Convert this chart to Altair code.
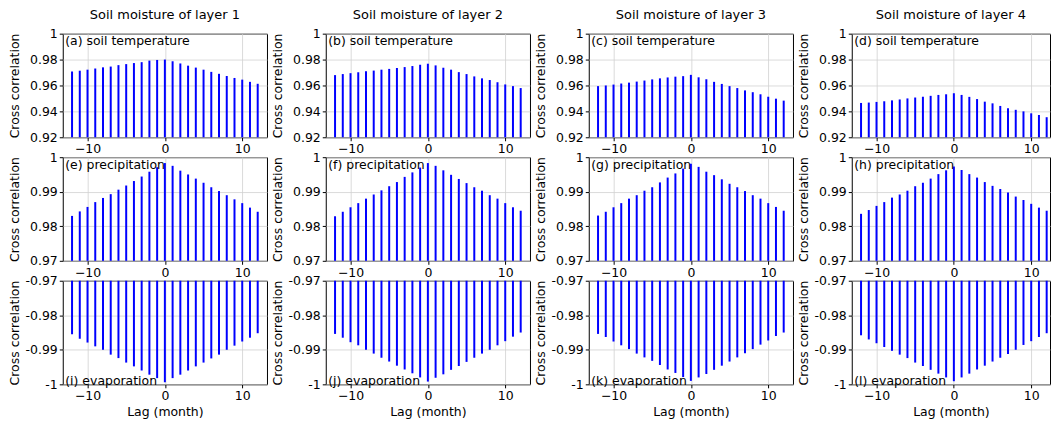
import altair as alt
import pandas as pd

lags = list(range(-12, 13))

column_titles = ["Soil moisture of layer 1", "Soil moisture of layer 2",
                 "Soil moisture of layer 3", "Soil moisture of layer 4"]

temp_labels = ["(a) soil temperature", "(b) soil temperature",
               "(c) soil temperature", "(d) soil temperature"]
prec_labels = ["(e) precipitation", "(f) precipitation",
               "(g) precipitation", "(h) precipitation"]
evap_labels = ["(i) evaporation", "(j) evaporation",
               "(k) evaporation", "(l) evaporation"]

temp_l1 = [0.9708, 0.9714, 0.9722, 0.9731, 0.9740, 0.9746, 0.9757, 0.9765, 0.9773,
           0.9780, 0.9792, 0.9797, 0.9800, 0.9787, 0.9770, 0.9753, 0.9738, 0.9722,
           0.9705, 0.9690, 0.9673, 0.9658, 0.9645, 0.9628, 0.9613]
temp_l2 = [0.9680, 0.9688, 0.9695, 0.9702, 0.9710, 0.9715, 0.9722, 0.9728, 0.9735,
           0.9742, 0.9750, 0.9760, 0.9768, 0.9755, 0.9737, 0.9722, 0.9703, 0.9688,
           0.9670, 0.9655, 0.9642, 0.9625, 0.9608, 0.9595, 0.9580]
temp_l3 = [0.9595, 0.9600, 0.9607, 0.9615, 0.9622, 0.9630, 0.9638, 0.9647, 0.9655,
           0.9662, 0.9668, 0.9672, 0.9682, 0.9663, 0.9648, 0.9628, 0.9612, 0.9595,
           0.9580, 0.9562, 0.9548, 0.9532, 0.9513, 0.9498, 0.9483]
temp_l4 = [0.9465, 0.9468, 0.9473, 0.9478, 0.9485, 0.9492, 0.9500, 0.9507, 0.9513,
           0.9520, 0.9527, 0.9532, 0.9540, 0.9527, 0.9512, 0.9495, 0.9475, 0.9462,
           0.9442, 0.9425, 0.9412, 0.9400, 0.9385, 0.9372, 0.9355]

prec_l1 = [0.9830, 0.9843, 0.9856, 0.9870, 0.9882, 0.9893, 0.9906, 0.9918, 0.9931,
           0.9944, 0.9958, 0.9971, 0.9983, 0.9975, 0.9961, 0.9950, 0.9938, 0.9926,
           0.9913, 0.9902, 0.9890, 0.9878, 0.9867, 0.9854, 0.9842]
prec_l2 = [0.9829, 0.9842, 0.9855, 0.9867, 0.9880, 0.9892, 0.9904, 0.9916, 0.9928,
           0.9943, 0.9956, 0.9970, 0.9983, 0.9975, 0.9962, 0.9949, 0.9937, 0.9925,
           0.9913, 0.9903, 0.9890, 0.9880, 0.9867, 0.9855, 0.9845]
prec_l3 = [0.9831, 0.9842, 0.9855, 0.9867, 0.9880, 0.9890, 0.9903, 0.9913, 0.9927,
           0.9941, 0.9953, 0.9967, 0.9981, 0.9972, 0.9958, 0.9948, 0.9936, 0.9923,
           0.9913, 0.9902, 0.9890, 0.9880, 0.9867, 0.9856, 0.9845]
prec_l4 = [0.9836, 0.9847, 0.9859, 0.9870, 0.9883, 0.9892, 0.9903, 0.9916, 0.9926,
           0.9938, 0.9951, 0.9962, 0.9973, 0.9963, 0.9951, 0.9941, 0.9928, 0.9917,
           0.9908, 0.9898, 0.9886, 0.9876, 0.9865, 0.9854, 0.9845]

evap_l1 = [-0.9855, -0.9868, -0.9879, -0.9890, -0.9900, -0.9914, -0.9924, -0.9937, -0.9948,
           -0.9960, -0.9972, -0.9982, -0.9994, -0.9982, -0.9972, -0.9960, -0.9948, -0.9937,
           -0.9925, -0.9914, -0.9900, -0.9888, -0.9876, -0.9865, -0.9852]
evap_l2 = [-0.9854, -0.9865, -0.9878, -0.9887, -0.9900, -0.9911, -0.9923, -0.9934, -0.9946,
           -0.9957, -0.9968, -0.9980, -0.9992, -0.9981, -0.9971, -0.9958, -0.9947, -0.9935,
           -0.9923, -0.9911, -0.9900, -0.9887, -0.9875, -0.9862, -0.9850]
evap_l3 = [-0.9854, -0.9863, -0.9876, -0.9887, -0.9898, -0.9911, -0.9922, -0.9932, -0.9944,
           -0.9957, -0.9967, -0.9979, -0.9990, -0.9980, -0.9970, -0.9958, -0.9946, -0.9934,
           -0.9922, -0.9910, -0.9898, -0.9885, -0.9873, -0.9860, -0.9850]
evap_l4 = [-0.9858, -0.9870, -0.9881, -0.9892, -0.9903, -0.9914, -0.9924, -0.9937, -0.9947,
           -0.9958, -0.9969, -0.9980, -0.9991, -0.9980, -0.9969, -0.9957, -0.9946, -0.9934,
           -0.9923, -0.9912, -0.9900, -0.9886, -0.9875, -0.9863, -0.9852]

rows = [
    dict(series=[temp_l1, temp_l2, temp_l3, temp_l4], labels=temp_labels,
         domain=[0.92, 1.0], ticks=[0.92, 0.94, 0.96, 0.98, 1.0], base=0.92, text_y=7.5),
    dict(series=[prec_l1, prec_l2, prec_l3, prec_l4], labels=prec_labels,
         domain=[0.97, 1.0], ticks=[0.97, 0.98, 0.99, 1.0], base=0.97, text_y=8),
    dict(series=[evap_l1, evap_l2, evap_l3, evap_l4], labels=evap_labels,
         domain=[-1.0, -0.97], ticks=[-1.0, -0.99, -0.98, -0.97], base=-0.97, text_y=100.5),
]

FONT = "DejaVu Sans"
H = 104
YEXT = 38
XEXT = 19

ylab = ("(datum.value < 0 ? '-' : '') + (abs(datum.value) > 0.9999 ? '1' : "
        "format(abs(datum.value), '.2f'))")


def panel(r, c):
    row = rows[r]
    df = pd.DataFrame({"lag": lags, "value": row["series"][c]})
    df["base"] = row["base"]
    if c < 3:
        xdom, w = [-13.2, 13.2], 205
    else:
        xdom, w = [-13.2, 12.43], 199
    xaxis = alt.Axis(values=[-10, 0, 10], title="Lag (month)" if r == 2 else None,
                     minExtent=XEXT, maxExtent=XEXT)
    x = alt.X("lag:Q", scale=alt.Scale(domain=xdom, nice=False, zero=False), axis=xaxis)
    y = alt.Y("value:Q", scale=alt.Scale(domain=row["domain"], nice=False, zero=False),
              axis=alt.Axis(values=row["ticks"], title="Cross correlation", labelExpr=ylab,
                            minExtent=YEXT, maxExtent=YEXT, titlePadding=3))
    stems = alt.Chart(df).mark_rule(color="#0000ff", strokeWidth=2).encode(
        x=x, y=y, y2="base:Q")
    txt = alt.Chart(pd.DataFrame({"t": [row["labels"][c]]})).mark_text(
        align="left", baseline="middle", font=FONT, fontSize=12.5, color="black"
    ).encode(text="t:N", x=alt.value(2.5), y=alt.value(row["text_y"]))
    ch = alt.layer(stems, txt).properties(width=w, height=H)
    if r == 0:
        ch = ch.properties(title=alt.TitleParams(column_titles[c], anchor="middle",
                                                 baseline="bottom", offset=-7,
                                                 font=FONT, fontSize=13,
                                                 fontWeight="normal", color="black"))
    return ch


row_charts = [alt.hconcat(*[panel(r, c) for c in range(4)], spacing=3) for r in range(3)]
chart = alt.vconcat(*row_charts, spacing=-7).properties(
    padding={"left": 8, "top": 7, "right": 0, "bottom": 0}
).configure_view(stroke="black", strokeWidth=1).configure_axis(
    labelFont=FONT, labelFontSize=12.5, labelColor="black",
    titleFont=FONT, titleFontSize=12.5, titleFontWeight="normal", titleColor="black",
    tickColor="black", tickSize=3.5, labelPadding=2, domain=False,
    gridColor="#d0d0d0", gridWidth=0.8
).configure_axisX(titlePadding=2)

chart.save("out.html", embed_options={"renderer": "svg", "actions": False})
